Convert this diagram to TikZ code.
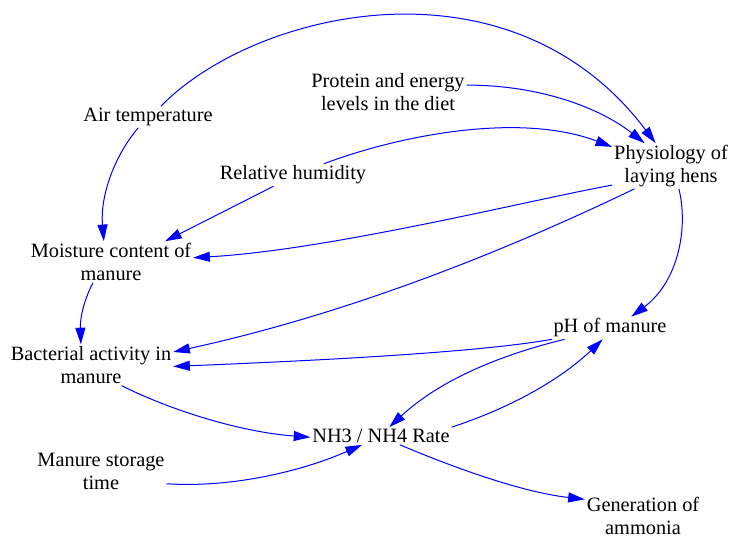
\documentclass[tikz,border=0pt]{standalone}
\usepackage{fontspec}
\setmainfont{Liberation Serif}
\usetikzlibrary{arrows.meta}

\begin{document}
\begin{tikzpicture}[x=0.6pt, y=-0.6pt,
		var/.style={align=center, inner sep=1pt, font=\fontsize{12.2}{13.8}\selectfont},
		flow/.style={draw=blue, line width=0.6pt, -{Triangle[length=10pt,width=6pt]}}]
	\useasboundingbox (0,0) rectangle (730,541);
		\node [var] (AT) at (148,117) 
			{Air temperature}; 
		\node [var] (PE) at (388,92) 
			{Protein and energy\\levels in the diet}; 
		\node [var] (RH) at (293,175) 
			{Relative humidity}; 
		\node [var] (PH) at (671,166) 
			{Physiology of\\laying hens}; 
		\node [var] (MC) at (111,262) 
			{Moisture content of\\manure}; 
		\node [var] (BA) at (91,365) 
			{Bacterial activity in\\manure}; 
		\node [var] (PM) at (610,328) 
			{pH of manure}; 
		\node [var] (NR) at (381,436) 
			{NH3 / NH4 Rate}; 
		\node [var] (MS) at (101,471) 
			{Manure storage\\time}; 
		\node [var] (GA) at (643,516) 
			{Generation of\\ammonia}; 
		% causal links
		\draw [flow] (AT.40) .. controls (255,10) and (510,-50) .. (PH.124);
		\draw [flow] (AT.228) .. controls (115,155) and (100,195) .. (MC.109);
		\draw [flow] (PE.5) .. controls (540,85) and (600,108) .. (PH.139);
		\draw [flow] (RH.20) .. controls (400,135) and (520,112) .. (PH.162);
		\draw [flow] (RH.210) to (MC.21);
		\draw [flow] (PH.198) .. controls (530,200) and (330,250) .. (MC.3);
		\draw [flow] (PH.212) .. controls (470,268) and (320,320) .. (BA.9);
		\draw [flow] (PH.289) .. controls (688,225) and (680,280) .. (PM.28);
		\draw [flow] (MC.229) .. controls (84,300) and (80,318) .. (BA.116);
		\draw [flow] (PM.191) .. controls (470,354) and (280,362) .. (BA.359);
		\draw [flow] (PM.194) .. controls (500,355) and (440,380) .. (NR.47);
		\draw [flow] (NR.north east) .. controls (510,408) and (560,380) .. (PM.237);
		\draw [flow] (BA.326) .. controls (170,410) and (240,432) .. (NR.181);
		\draw [flow] (MS.-11) .. controls (230,488) and (300,472) .. (NR.205);
		\draw [flow] (NR.-25) .. controls (450,466) and (520,492) .. (GA.164);
	\end{tikzpicture}
\end{document}
